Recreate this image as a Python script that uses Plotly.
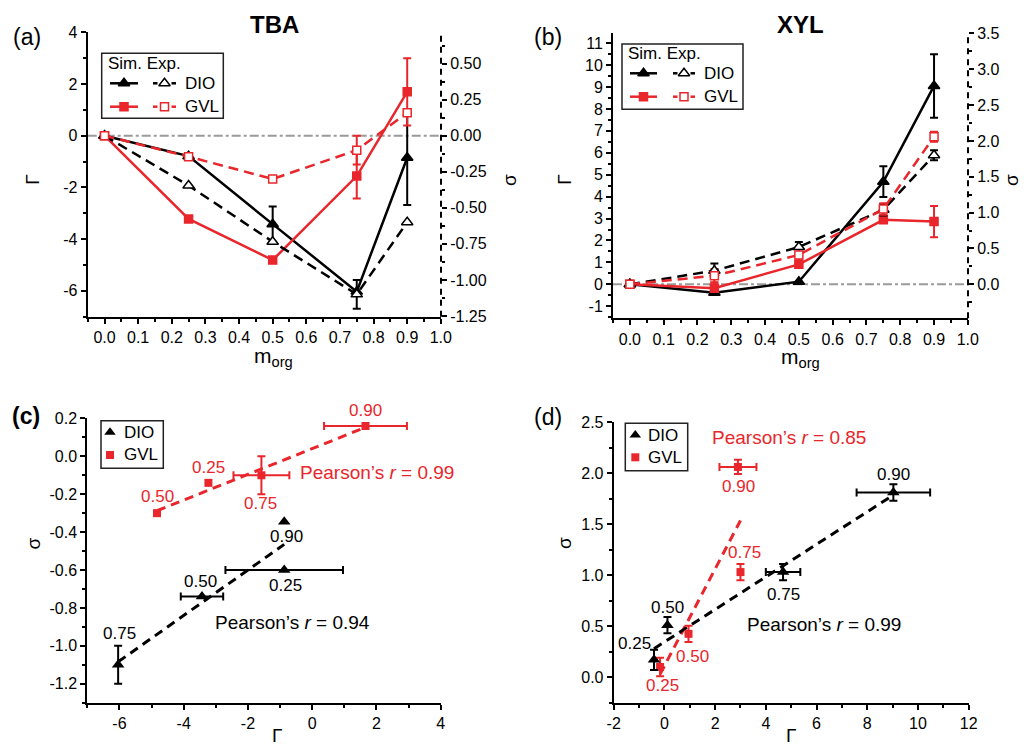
import numpy as np
import plotly.graph_objects as go

W, H = 1024, 749
FONT = "Liberation Sans, Arial, Helvetica, sans-serif"
RED = "#E8262B"
BLACK = "#000000"
GRAY = "#9A9A9A"

# ---------------- data ----------------
m_org = [0.0, 0.25, 0.50, 0.75, 0.90]

# TBA (panel a): simulation Gamma (left axis), experiment sigma (right axis)
tba_sim_dio = [0.0, -0.79, -3.42, -6.03, -0.85]
tba_sim_dio_err = [0, 0, 0.68, 0, 1.83]
tba_sim_gvl = [0.0, -3.22, -4.81, -1.56, 1.70]
tba_sim_gvl_err = [0, 0, 0, 0.87, 1.30]
tba_exp_dio = [0.0, -0.345, -0.735, -1.10, -0.60]
tba_exp_dio_err = [0, 0, 0, 0.10, 0]
tba_exp_gvl = [0.0, -0.145, -0.30, -0.10, 0.16]
tba_exp_gvl_err = [0, 0, 0, 0.10, 0]

# XYL (panel b)
xyl_sim_dio = [0.0, -0.38, 0.12, 4.68, 9.05]
xyl_sim_dio_err = [0, 0, 0, 0.70, 1.45]
xyl_sim_gvl = [0.0, -0.18, 0.91, 2.94, 2.86]
xyl_sim_gvl_err = [0, 0.25, 0, 0, 0.71]
xyl_exp_dio = [0.0, 0.19, 0.52, 1.04, 1.80]
xyl_exp_dio_err = [0, 0.10, 0.07, 0.08, 0.07]
xyl_exp_gvl = [0.0, 0.12, 0.41, 1.05, 2.06]
xyl_exp_gvl_err = [0, 0.09, 0.08, 0.08, 0.07]

# panel c (TBA sigma vs Gamma)
c_dio_gamma = [-0.87, -3.43, -6.04, -0.87]
c_dio_sigma = [-0.60, -0.74, -1.10, -0.345]
c_dio_gamma_err = [1.83, 0.66, 0, 0]
c_dio_sigma_err = [0, 0, 0.10, 0]
c_dio_labels = ["0.25", "0.50", "0.75", "0.90"]
c_gvl_gamma = [-3.23, -4.83, -1.58, 1.66]
c_gvl_sigma = [-0.14, -0.30, -0.10, 0.16]
c_gvl_gamma_err = [0, 0, 0.87, 1.29]
c_gvl_sigma_err = [0, 0, 0.10, 0]
c_gvl_labels = ["0.25", "0.50", "0.75", "0.90"]

# panel d (XYL sigma vs Gamma)
d_dio_gamma = [-0.41, 0.12, 4.68, 9.03]
d_dio_sigma = [0.17, 0.51, 1.03, 1.81]
d_dio_gamma_err = [0, 0, 0.68, 1.45]
d_dio_sigma_err = [0.10, 0.08, 0.08, 0.08]
d_dio_labels = ["0.25", "0.50", "0.75", "0.90"]
d_gvl_gamma = [-0.17, 0.95, 3.00, 2.90]
d_gvl_sigma = [0.10, 0.425, 1.03, 2.06]
d_gvl_gamma_err = [0, 0, 0, 0.73]
d_gvl_sigma_err = [0.09, 0.08, 0.08, 0.07]
d_gvl_labels = ["0.25", "0.50", "0.75", "0.90"]

pearson_c_gvl = "Pearson\u2019s <i>r</i> = 0.99"
pearson_c_dio = "Pearson\u2019s <i>r</i> = 0.94"
pearson_d_gvl = "Pearson\u2019s <i>r</i> = 0.85"
pearson_d_dio = "Pearson\u2019s <i>r</i> = 0.99"

# tick values (labels use a plain hyphen-minus, as in the reference)
ab_x_ticks = [0.0, 0.1, 0.2, 0.3, 0.4, 0.5, 0.6, 0.7, 0.8, 0.9, 1.0]
a_y_ticks = [-6, -4, -2, 0, 2, 4]
a_y2_ticks = [-1.25, -1.0, -0.75, -0.5, -0.25, 0.0, 0.25, 0.5]
b_y_ticks = [-1, 0, 1, 2, 3, 4, 5, 6, 7, 8, 9, 10, 11]
b_y2_ticks = [0.0, 0.5, 1.0, 1.5, 2.0, 2.5, 3.0, 3.5]
c_x_ticks = [-6, -4, -2, 0, 2, 4]
c_y_ticks = [-1.2, -1.0, -0.8, -0.6, -0.4, -0.2, 0.0, 0.2]
d_x_ticks = [-2, 0, 2, 4, 6, 8, 10, 12]
d_y_ticks = [0.0, 0.5, 1.0, 1.5, 2.0, 2.5]


def alias(vals, nd):
    out = {}
    for v in vals:
        s = f"{v:.{nd}f}"
        if s.startswith("-"):
            out["\u2212" + s[1:]] = s
    return out


fig = go.Figure()


# ------------- helpers -------------
def line_trace(x, y, color, dash, symbol, fill, size, xa, ya):
    fig.add_trace(go.Scatter(
        x=x, y=y, mode="lines+markers", xaxis=xa, yaxis=ya,
        line=dict(color=color, width=2.5, dash=dash),
        marker=dict(symbol=symbol, size=size, color=fill,
                    line=dict(color=color, width=1.5)),
        showlegend=False, cliponaxis=False))


def err_trace(x, y, e, color, xa, ya, direction):
    xs = [x[i] for i in range(len(x)) if e[i]]
    ys = [y[i] for i in range(len(x)) if e[i]]
    es = [e[i] for i in range(len(x)) if e[i]]
    if not xs:
        return
    eb = dict(type="data", array=es, color=color, thickness=2, width=4, visible=True)
    kw = {"error_y": eb} if direction == "y" else {"error_x": eb}
    fig.add_trace(go.Scatter(x=xs, y=ys, mode="markers", xaxis=xa, yaxis=ya,
                             marker=dict(size=2, color="rgba(0,0,0,0)"),
                             showlegend=False, cliponaxis=False, **kw))


# ------------- panel a -------------
err_trace(m_org, tba_sim_dio, tba_sim_dio_err, BLACK, "x", "y", "y")
err_trace(m_org, tba_sim_gvl, tba_sim_gvl_err, RED, "x", "y", "y")
err_trace(m_org, tba_exp_dio, tba_exp_dio_err, BLACK, "x", "y2", "y")
err_trace(m_org, tba_exp_gvl, tba_exp_gvl_err, RED, "x", "y2", "y")
line_trace(m_org, tba_exp_dio, BLACK, "10px,6px", "triangle-up", "white", 10, "x", "y2")
line_trace(m_org, tba_exp_gvl, RED, "10px,6px", "square", "white", 8, "x", "y2")
line_trace(m_org, tba_sim_dio, BLACK, "solid", "triangle-up", BLACK, 10, "x", "y")
line_trace(m_org, tba_sim_gvl, RED, "solid", "square", RED, 8, "x", "y")

# ------------- panel b -------------
err_trace(m_org, xyl_sim_dio, xyl_sim_dio_err, BLACK, "x2", "y3", "y")
err_trace(m_org, xyl_sim_gvl, xyl_sim_gvl_err, RED, "x2", "y3", "y")
err_trace(m_org, xyl_exp_dio, xyl_exp_dio_err, BLACK, "x2", "y4", "y")
err_trace(m_org, xyl_exp_gvl, xyl_exp_gvl_err, RED, "x2", "y4", "y")
line_trace(m_org, xyl_exp_dio, BLACK, "10px,6px", "triangle-up", "white", 10, "x2", "y4")
line_trace(m_org, xyl_exp_gvl, RED, "10px,6px", "square", "white", 8, "x2", "y4")
line_trace(m_org, xyl_sim_dio, BLACK, "solid", "triangle-up", BLACK, 10, "x2", "y3")
line_trace(m_org, xyl_sim_gvl, RED, "solid", "square", RED, 8, "x2", "y3")


# ------------- panels c, d -------------
def fit_line(gx, sy, color, xa, ya):
    k, b = np.polyfit(gx, sy, 1)
    xx = np.array([min(gx), max(gx)])
    fig.add_trace(go.Scatter(x=xx, y=k * xx + b, mode="lines", xaxis=xa, yaxis=ya,
                             line=dict(color=color, width=3, dash="9px,6px"),
                             showlegend=False))


def scatter_pts(gx, sy, gex, sey, color, symbol, size, xa, ya):
    err_trace(gx, sy, sey, color, xa, ya, "y")
    err_trace(gx, sy, gex, color, xa, ya, "x")
    fig.add_trace(go.Scatter(x=gx, y=sy, mode="markers", xaxis=xa, yaxis=ya,
                             marker=dict(symbol=symbol, size=size, color=color,
                                         line=dict(width=0)),
                             showlegend=False, cliponaxis=False))


fit_line(c_gvl_gamma, c_gvl_sigma, RED, "x3", "y5")
fit_line(c_dio_gamma, c_dio_sigma, BLACK, "x3", "y5")
scatter_pts(c_gvl_gamma, c_gvl_sigma, c_gvl_gamma_err, c_gvl_sigma_err, RED, "square", 8, "x3", "y5")
scatter_pts(c_dio_gamma, c_dio_sigma, c_dio_gamma_err, c_dio_sigma_err, BLACK, "triangle-up", 11, "x3", "y5")

fit_line(d_gvl_gamma, d_gvl_sigma, RED, "x4", "y6")
fit_line(d_dio_gamma, d_dio_sigma, BLACK, "x4", "y6")
scatter_pts(d_gvl_gamma, d_gvl_sigma, d_gvl_gamma_err, d_gvl_sigma_err, RED, "square", 8, "x4", "y6")
scatter_pts(d_dio_gamma, d_dio_sigma, d_dio_gamma_err, d_dio_sigma_err, BLACK, "triangle-up", 11, "x4", "y6")


# ------------- layout -------------
def px_dom_x(a, b):
    return [a / W, b / W]


def px_dom_y(top, bottom):
    return [1 - bottom / H, 1 - top / H]


def axis(ticks_list, nd, dtick, minor_dt, tick0=0, **kw):
    base = dict(showline=True, linecolor="black", linewidth=2, ticks="outside",
                ticklen=5, tickwidth=1.5, tickcolor="black", showgrid=False,
                zeroline=False, mirror=False, automargin=False,
                tickmode="linear", tick0=tick0, dtick=dtick, tickformat=f".{nd}f",
                labelalias=alias(ticks_list, nd),
                minor=dict(ticks="outside", ticklen=3, tickwidth=1.5, tickcolor="black",
                           dtick=minor_dt, tick0=tick0, showgrid=False),
                tickfont=dict(family=FONT, size=16, color="black"))
    base.update(kw)
    return base


a_s_lo = -1.2549
a_s_hi = 0.7171
b_s_hi = 3.502
b_s_lo = -b_s_hi * 1.55 / 11.45

layout = dict(
    template="none",
    width=W, height=H, margin=dict(l=0, r=0, t=0, b=0, pad=0, autoexpand=False),
    plot_bgcolor="rgba(0,0,0,0)", paper_bgcolor="white", showlegend=False,
    font=dict(family=FONT, color="black"),
    xaxis=axis(ab_x_ticks, 1, 0.1, 0.05, domain=px_dom_x(87.7, 441), anchor="y",
               range=[-0.05, 1.0005]),
    yaxis=axis(a_y_ticks, 0, 2, 1, domain=px_dom_y(32.3, 316.7), anchor="x",
               range=[-7, 4]),
    yaxis2=axis(a_y2_ticks, 2, 0.25, 0.125, overlaying="y", anchor="x", side="right",
                range=[a_s_lo, a_s_hi], showline=False),
    xaxis2=axis(ab_x_ticks, 1, 0.1, 0.05, domain=px_dom_x(613, 968), anchor="y3",
                range=[-0.05, 1.0005]),
    yaxis3=axis(b_y_ticks, 0, 1, 0.5, domain=px_dom_y(33.3, 318.3), anchor="x2",
                range=[-1.55, 11.45]),
    yaxis4=axis(b_y2_ticks, 1, 0.5, 0.25, overlaying="y3", anchor="x2", side="right",
                range=[b_s_lo, b_s_hi], showline=False),
    xaxis3=axis(c_x_ticks, 0, 2, 1, domain=px_dom_x(87.3, 440.7), anchor="y5",
                range=[-7, 4.001]),
    yaxis5=axis(c_y_ticks, 1, 0.2, 0.1, domain=px_dom_y(418.3, 702.7), anchor="x3",
                range=[-1.3, 0.2005]),
    xaxis4=axis(d_x_ticks, 0, 2, 1, domain=px_dom_x(613.7, 968.7), anchor="y6",
                range=[-2, 12.001]),
    yaxis6=axis(d_y_ticks, 1, 0.5, 0.25, domain=px_dom_y(422.0, 702.7), anchor="x4",
                range=[-0.25, 2.5005]),
    # pixel overlay for legend samples
    xaxis5=dict(domain=[0, 1], range=[0, W], visible=False, anchor="y7", fixedrange=True,
                automargin=False),
    yaxis7=dict(domain=[0, 1], range=[H, 0], visible=False, anchor="x5", fixedrange=True,
                automargin=False),
)
fig.update_layout(**layout)

shapes = []
# zero lines
shapes.append(dict(type="line", xref="x domain", yref="y", x0=0, x1=1, y0=0, y1=0,
                   line=dict(color=GRAY, width=2, dash="dashdot"), layer="below"))
shapes.append(dict(type="line", xref="x2 domain", yref="y3", x0=0, x1=1, y0=0, y1=0,
                   line=dict(color=GRAY, width=2, dash="dashdot"), layer="below"))
# dashed right axes
shapes.append(dict(type="line", xref="x domain", yref="y domain", x0=1, x1=1, y0=0, y1=1,
                   line=dict(color=BLACK, width=2, dash="6px,5px")))
shapes.append(dict(type="line", xref="x2 domain", yref="y3 domain", x0=1, x1=1, y0=0, y1=1,
                   line=dict(color=BLACK, width=2, dash="6px,5px")))

annotations = []


def text(x, y, s, size, color=BLACK, xanchor="center", angle=0):
    annotations.append(dict(xref="paper", yref="paper", x=x / W, y=1 - y / H, text=s,
                            showarrow=False, xanchor=xanchor, yanchor="middle",
                            textangle=angle,
                            font=dict(family=FONT, size=size, color=color)))


# legends a, b
def legend_ab(x0, y0, x1, y1, tx, ty, rows):
    shapes.append(dict(type="rect", xref="x5", yref="y7", x0=x0, x1=x1, y0=y0, y1=y1,
                       line=dict(color="#222222", width=1.5), fillcolor="white",
                       layer="below"))
    text(tx, ty, "Sim. Exp.", 17, xanchor="left")
    for (ry, color, sym, label, sx0, sx1, ex0, ex1, lx) in rows:
        shapes.append(dict(type="line", xref="x5", yref="y7", x0=sx0, x1=sx1, y0=ry, y1=ry,
                           line=dict(color=color, width=2.5), layer="below"))
        em = (ex0 + ex1) / 2
        for a, b in ((ex0, ex0 + 4.5), (ex1 - 4.5, ex1)):
            shapes.append(dict(type="line", xref="x5", yref="y7", x0=a, x1=b, y0=ry, y1=ry,
                               line=dict(color=color, width=2.5), layer="below"))
        size = 10 if sym == "triangle-up" else 8
        fig.add_trace(go.Scatter(x=[(sx0 + sx1) / 2, em], y=[ry, ry], mode="markers",
                                 xaxis="x5", yaxis="y7", showlegend=False, cliponaxis=False,
                                 marker=dict(symbol=sym, size=size, color=[color, "white"],
                                             line=dict(color=color, width=1.5))))
        text(lx, ry, label, 17, xanchor="left")


legend_ab(101.7, 53.3, 223.3, 118.3, 105.5, 63.5,
          [(83.3, BLACK, "triangle-up", "DIO", 110, 138, 153, 176, 182.5),
           (106.7, RED, "square", "GVL", 110, 138, 153, 176, 182.5)])
legend_ab(622, 44, 743, 109.3, 625.5, 53.5,
          [(73.3, BLACK, "triangle-up", "DIO", 630, 657, 673, 695, 701.5),
           (96.7, RED, "square", "GVL", 630, 657, 673, 695, 701.5)])


def legend_cd(x0, y0, x1, y1, mx, tx, ry1, ry2):
    shapes.append(dict(type="rect", xref="x5", yref="y7", x0=x0, x1=x1, y0=y0, y1=y1,
                       line=dict(color="#222222", width=1.5), fillcolor="white",
                       layer="below"))
    fig.add_trace(go.Scatter(x=[mx], y=[ry1], mode="markers", xaxis="x5", yaxis="y7",
                             showlegend=False, cliponaxis=False,
                             marker=dict(symbol="triangle-up", size=10, color=BLACK)))
    fig.add_trace(go.Scatter(x=[mx], y=[ry2], mode="markers", xaxis="x5", yaxis="y7",
                             showlegend=False, cliponaxis=False,
                             marker=dict(symbol="square", size=8, color=RED)))
    text(tx, ry1, "DIO", 17, xanchor="left")
    text(tx, ry2, "GVL", 17, xanchor="left")


legend_cd(101, 420.7, 163.3, 468.3, 110, 121.5, 432.3, 455)
legend_cd(625.3, 423.3, 687.7, 470.7, 635.3, 646, 435, 457.3)

# point labels in c, d (pixel offsets dx, dy; dy positive = downwards)
c_gvl_off = {"0.25": (0, -15), "0.50": (0, -17), "0.75": (-1, 28), "0.90": (0, -15)}
c_dio_off = {"0.25": (1, 15), "0.50": (-1, -15), "0.75": (1, -31), "0.90": (2, 15)}
d_gvl_off = {"0.25": (2, 19), "0.50": (4, 23), "0.75": (4, -20), "0.90": (1, 20)}
d_dio_off = {"0.25": (-20, -16), "0.50": (0, -18), "0.75": (0, 22), "0.90": (0, -18)}


def point_labels(gx, sy, labels, offs, color, xa, ya):
    for g, s, lab in zip(gx, sy, labels):
        dx, dy = offs[lab]
        annotations.append(dict(xref=xa, yref=ya, x=g, y=s, text=lab, showarrow=False,
                                xshift=dx, yshift=-dy, xanchor="center", yanchor="middle",
                                font=dict(family=FONT, size=17, color=color)))


point_labels(c_gvl_gamma, c_gvl_sigma, c_gvl_labels, c_gvl_off, RED, "x3", "y5")
point_labels(c_dio_gamma, c_dio_sigma, c_dio_labels, c_dio_off, BLACK, "x3", "y5")
point_labels(d_gvl_gamma, d_gvl_sigma, d_gvl_labels, d_gvl_off, RED, "x4", "y6")
point_labels(d_dio_gamma, d_dio_sigma, d_dio_labels, d_dio_off, BLACK, "x4", "y6")

# Pearson texts
text(298, 472, pearson_c_gvl, 19, RED, xanchor="left")
text(213, 622.7, pearson_c_dio, 19, BLACK, xanchor="left")
text(710, 437, pearson_d_gvl, 19, RED, xanchor="left")
text(745, 624.3, pearson_d_dio, 19, BLACK, xanchor="left")

# titles and panel labels
annotations.append(dict(xref="paper", yref="paper", x=274.3 / W, y=1 - 24 / H,
                        text="<b>TBA</b>", showarrow=False, xanchor="center", yanchor="middle",
                        font=dict(family=FONT, size=24, color=BLACK)))
annotations.append(dict(xref="paper", yref="paper", x=800 / W, y=1 - 24 / H,
                        text="<b>XYL</b>", showarrow=False, xanchor="center", yanchor="middle",
                        font=dict(family=FONT, size=24, color=BLACK)))
text(27.3, 37, "(a)", 23)
text(548, 37, "(b)", 23)
text(26, 415.7, "<b>(c)</b>", 23)
text(548, 417.3, "(d)", 23)

# axis titles
text(31.7, 180, "\u0393", 19, angle=-90)
text(509, 180, "\u03c3", 19, angle=-90)
text(563.7, 180, "\u0393", 19, angle=-90)
text(1011, 180, "\u03c3", 19, angle=-90)
text(273, 357, "m<sub>org</sub>", 21)
text(800, 358, "m<sub>org</sub>", 21)
text(33.3, 543.3, "\u03c3", 19, angle=-90)
text(276.7, 735.5, "\u0393", 19)
text(564.7, 543.3, "\u03c3", 19, angle=-90)
text(791.3, 735.5, "\u0393", 19)

fig.update_layout(shapes=shapes, annotations=annotations)
fig.write_html("out.html")
